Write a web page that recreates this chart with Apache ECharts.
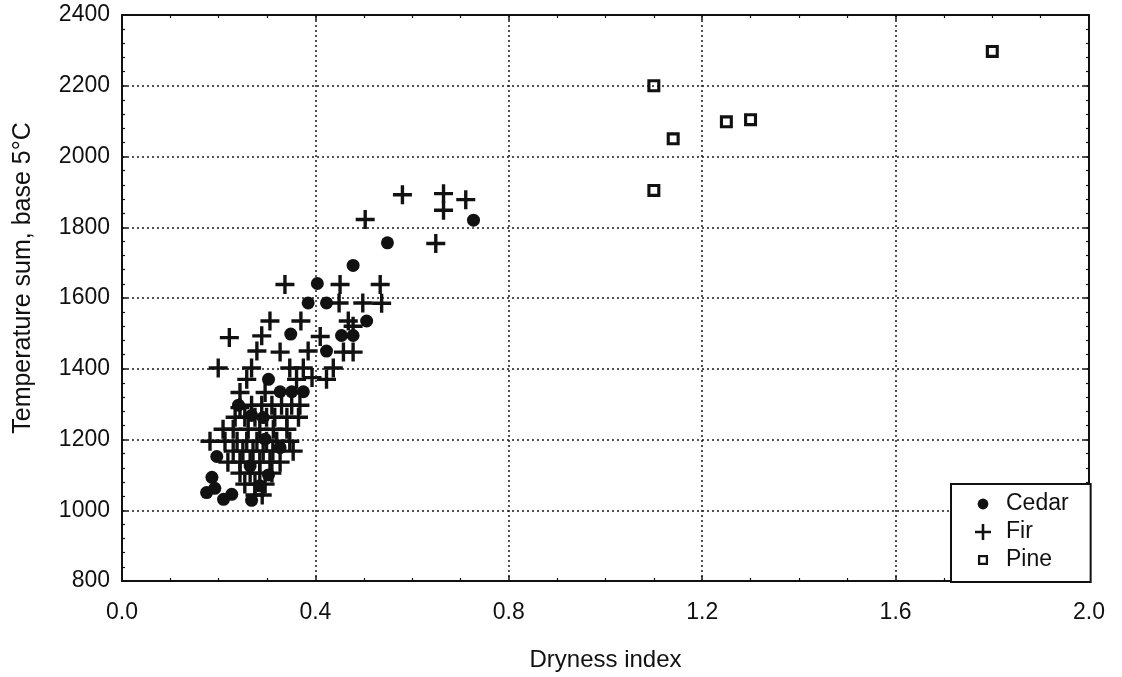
<!DOCTYPE html>
<html>
<head>
<meta charset="utf-8">
<script src="https://cdn.jsdelivr.net/npm/echarts@6/dist/echarts.min.js"></script>
<style>
html,body{margin:0;padding:0;background:#fff;}
#chart{width:1122px;height:677px;}
</style>
</head>
<body>
<div id="chart"></div>
<script>
// ---- Data ----
const seriesNames = ['Cedar', 'Fir', 'Pine'];

const xTickLabels = ['0.0', '0.4', '0.8', '1.2', '1.6', '2.0'];
const yTickLabels = ['800', '1000', '1200', '1400', '1600', '1800', '2000', '2200', '2400'];

const cedarPoints = [
  [0.727, 1820], [0.549, 1756], [0.478, 1692], [0.404, 1641], [0.385, 1586],
  [0.423, 1586], [0.506, 1535], [0.349, 1498], [0.454, 1494], [0.478, 1494],
  [0.423, 1450], [0.303, 1370], [0.327, 1335], [0.351, 1335], [0.375, 1335],
  [0.241, 1297], [0.268, 1268], [0.292, 1262], [0.296, 1201], [0.327, 1177],
  [0.196, 1152], [0.186, 1093], [0.175, 1050], [0.192, 1062], [0.210, 1031],
  [0.227, 1045], [0.268, 1028], [0.285, 1069], [0.265, 1125], [0.303, 1100]
];

const firPoints = [
  [0.580, 1892], [0.665, 1895], [0.665, 1848], [0.711, 1878], [0.503, 1822], [0.649, 1754],
  [0.337, 1638], [0.451, 1638], [0.534, 1638],
  [0.449, 1586], [0.498, 1586], [0.537, 1585],
  [0.306, 1535], [0.370, 1535], [0.468, 1535], [0.478, 1520],
  [0.222, 1488], [0.289, 1493], [0.410, 1491],
  [0.279, 1450], [0.327, 1447], [0.385, 1450], [0.458, 1447], [0.478, 1447],
  [0.199, 1402], [0.268, 1402], [0.347, 1402], [0.375, 1402], [0.437, 1402],
  [0.258, 1370], [0.361, 1370], [0.393, 1375], [0.423, 1370],
  [0.244, 1333], [0.296, 1333],
  [0.244, 1290], [0.268, 1297], [0.289, 1297], [0.310, 1297], [0.330, 1297], [0.351, 1297], [0.368, 1297],
  [0.234, 1263], [0.254, 1263], [0.275, 1263], [0.299, 1263], [0.316, 1263], [0.341, 1263], [0.365, 1263],
  [0.209, 1229], [0.230, 1229], [0.261, 1229], [0.285, 1229], [0.313, 1229], [0.341, 1229],
  [0.182, 1195], [0.213, 1195], [0.238, 1195], [0.258, 1195], [0.279, 1195], [0.299, 1195], [0.320, 1195], [0.347, 1195],
  [0.230, 1167], [0.250, 1167], [0.271, 1167], [0.292, 1167], [0.312, 1167], [0.354, 1167],
  [0.219, 1136], [0.244, 1136], [0.265, 1136], [0.285, 1136], [0.306, 1136], [0.327, 1136],
  [0.244, 1105], [0.265, 1105], [0.285, 1105], [0.310, 1105],
  [0.254, 1074], [0.275, 1074], [0.296, 1074],
  [0.275, 1043], [0.290, 1043]
];

const pinePoints = [
  [1.10, 2200], [1.14, 2050], [1.25, 2098], [1.30, 2104], [1.80, 2297], [1.10, 1904]
];

// ---- Chart ----
const FONT = "'Liberation Sans', Arial, Helvetica, sans-serif";
const INK = '#111';

const crossPath = 'path://M0,7.4H7.4V0H10.6V7.4H18V10.6H10.6V18H7.4V10.6H0Z';
const hollowSquarePath = 'path://M0,0H10V10H0Z M2.4,2.4V7.6H7.6V2.4Z';

// legend icons (padded box 26x16, glyph centred at x=8)
const legCircle = 'path://M0,0M26,16M2.6,8A5.4,5.4 0 1 1 13.4,8A5.4,5.4 0 1 1 2.6,8Z';
const legCross = 'path://M0,0M26,16M0,6.7H6.7V0H9.3V6.7H16V9.3H9.3V16H6.7V9.3H0Z';
const legSquare = 'path://M0,0M26,16M3,3H13V13H3Z M5.2,5.2V10.8H10.8V5.2Z';

const xMin = 0, xMax = 2.0, xStep = 0.4;
const yMin = 800, yMax = 2400, yStep = 200;

const chart = echarts.init(document.getElementById('chart'), null, {renderer: 'canvas'});

const baseAxisLine = {show: true, onZero: false, lineStyle: {color: INK, width: 2}};
const tickStyle = {show: true, inside: true, length: 5, lineStyle: {color: INK, width: 1.5}};
const minorTickStyle = {show: true, length: 3, lineStyle: {color: INK, width: 1.2}};
const gridLine = {show: true, lineStyle: {color: '#1a1a1a', width: 1.5, type: [2, 3]}};

chart.setOption({
  backgroundColor: '#fff',
  animation: false,
  textStyle: {fontFamily: FONT, color: INK},
  grid: {left: 122, right: 33, top: 15, bottom: 95, containLabel: false},
  xAxis: [{
    type: 'value', position: 'bottom', min: xMin, max: xMax, interval: xStep,
    name: 'Dryness index', nameLocation: 'middle', nameGap: 67,
    nameTextStyle: {fontSize: 24, color: INK, fontFamily: FONT},
    axisLine: baseAxisLine, axisTick: tickStyle,
    minorTick: Object.assign({splitNumber: 4}, minorTickStyle),
    axisLabel: {fontSize: 23, color: INK, fontFamily: FONT, margin: 20,
      formatter: v => xTickLabels[Math.round((v - xMin) / xStep)]},
    splitLine: gridLine
  }, {
    type: 'value', position: 'top', min: xMin, max: xMax, interval: xStep,
    axisLine: baseAxisLine, axisTick: tickStyle,
    minorTick: Object.assign({splitNumber: 4}, minorTickStyle),
    axisLabel: {show: false}, splitLine: {show: false}
  }],
  yAxis: [{
    type: 'value', position: 'left', min: yMin, max: yMax, interval: yStep,
    name: 'Temperature sum, base 5°C', nameLocation: 'middle', nameGap: 86, nameRotate: 90,
    nameTextStyle: {fontSize: 25, color: INK, fontFamily: FONT, padding: [0, 0, 0, 40]},
    axisLine: baseAxisLine, axisTick: tickStyle,
    minorTick: Object.assign({splitNumber: 5}, minorTickStyle),
    axisLabel: {fontSize: 23, color: INK, fontFamily: FONT, margin: 12,
      formatter: v => yTickLabels[Math.round((v - yMin) / yStep)]},
    splitLine: gridLine
  }, {
    type: 'value', position: 'right', min: yMin, max: yMax, interval: yStep,
    axisLine: baseAxisLine, axisTick: tickStyle,
    minorTick: Object.assign({splitNumber: 5}, minorTickStyle),
    axisLabel: {show: false}, splitLine: {show: false}
  }],
  legend: {
    orient: 'vertical',
    left: 951, top: 484,
    padding: [7, 22, 9, 24],
    itemGap: 2,
    itemWidth: 26, itemHeight: 16,
    backgroundColor: '#fff',
    borderColor: INK, borderWidth: 2,
    textStyle: {fontSize: 23, lineHeight: 26, color: INK, fontFamily: FONT},
    data: [
      {name: seriesNames[0], icon: legCircle, itemStyle: {color: INK, borderWidth: 0}},
      {name: seriesNames[1], icon: legCross, itemStyle: {color: INK, borderWidth: 0}},
      {name: seriesNames[2], icon: legSquare, itemStyle: {color: INK, borderWidth: 0}}
    ],
    z: 10
  },
  series: [{
    name: seriesNames[1], type: 'scatter', xAxisIndex: 0, yAxisIndex: 0,
    symbol: crossPath, symbolSize: 19,
    itemStyle: {color: INK, opacity: 1},
    data: firPoints, z: 3
  }, {
    name: seriesNames[0], type: 'scatter', xAxisIndex: 0, yAxisIndex: 0,
    symbol: 'circle', symbolSize: 13,
    itemStyle: {color: INK, opacity: 1},
    data: cedarPoints, z: 4
  }, {
    name: seriesNames[2], type: 'scatter', xAxisIndex: 0, yAxisIndex: 0,
    symbol: hollowSquarePath, symbolSize: 13,
    itemStyle: {color: INK, opacity: 1},
    data: pinePoints, z: 4
  }]
});
</script>
</body>
</html>
